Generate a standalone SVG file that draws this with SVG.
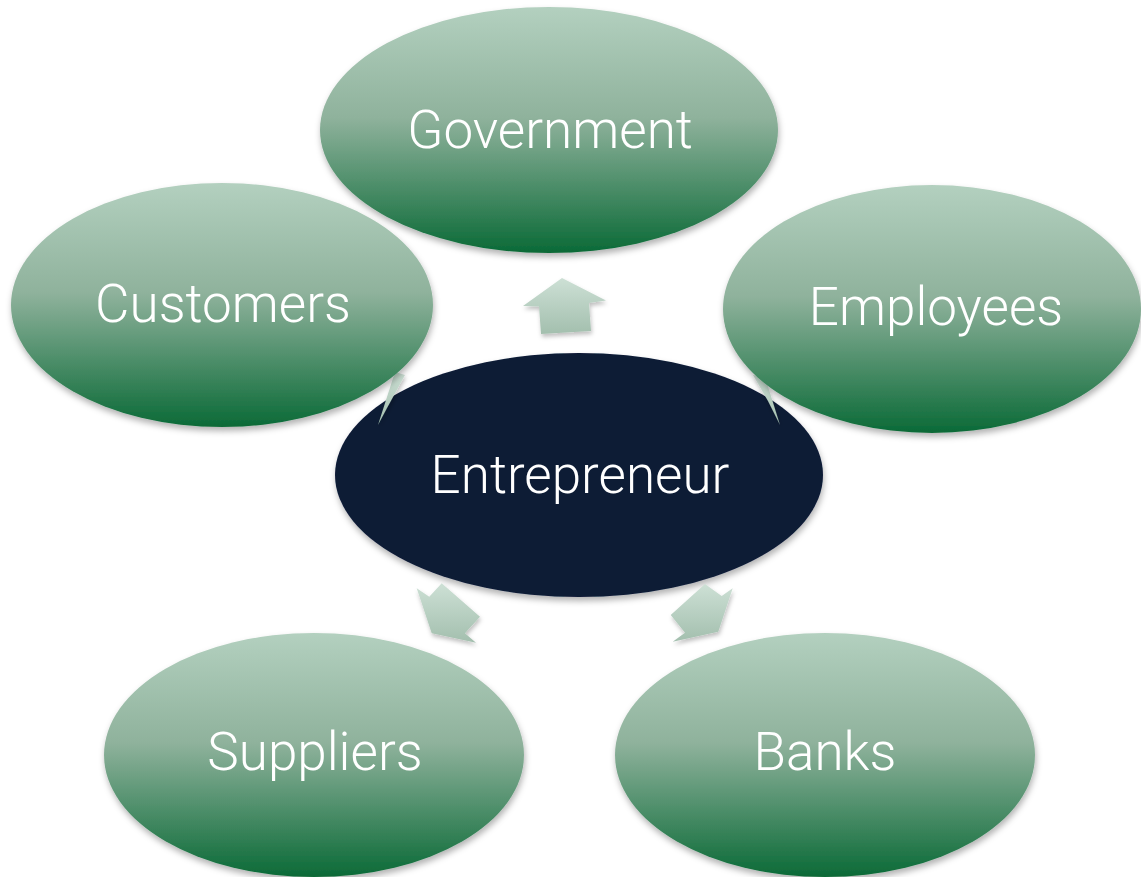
<svg xmlns="http://www.w3.org/2000/svg" width="1141" height="877" viewBox="0 0 1141 877">
<defs>
<linearGradient id="g" x1="0" y1="0" x2="0" y2="1">
<stop offset="0" stop-color="#b3d0bf"/>
<stop offset="0.45" stop-color="#8fb29c"/>
<stop offset="1" stop-color="#0b6a37"/>
</linearGradient>
<linearGradient id="ag" x1="0" y1="0" x2="0" y2="1">
<stop offset="0" stop-color="#cde0d5"/>
<stop offset="1" stop-color="#a3bfae"/>
</linearGradient>
<filter id="sh" x="-10%" y="-10%" width="120%" height="130%">
<feDropShadow dx="1" dy="4" stdDeviation="3" flood-color="#000" flood-opacity="0.3"/>
</filter>
<filter id="ash" x="-20%" y="-20%" width="140%" height="150%">
<feDropShadow dx="1" dy="3" stdDeviation="2" flood-color="#000" flood-opacity="0.25"/>
</filter>
</defs>
<style>
.n{fill:url(#g);filter:url(#sh)}
.c{fill:#0a1a36;filter:url(#sh)}
.a{fill:url(#ag);filter:url(#ash)}
text{font-family:Roboto,"Liberation Sans",sans-serif;font-weight:300;font-size:53px;fill:#fff;text-anchor:middle}
</style>
<g id="entrepreneur"><ellipse class="c" cx="579" cy="475" rx="244" ry="122"/><text x="580" y="493">Entrepreneur</text></g>
<g id="connectors">
<polygon class="a" points="562,278 523,306 539,306.5 541,334 591,331 589,303 606,300.5"/>
<polygon class="a" points="395,372 405,375 387,408 378,425"/>
<polygon class="a" points="753,375 765,377 780,425 768,401"/>
<polygon class="a" points="431.7,633.3 416.7,588.3 429.3,596.7 441.7,583.3 480,616.7 465,633.3 476,642.7"/>
<polygon class="a" points="718.3,631.7 732.7,588.3 721.7,596 705,584 670.7,615 685,632.7 672.7,641.7"/>
</g>
<g id="government"><ellipse class="n" cx="549" cy="130" rx="229" ry="123"/><text x="550" y="148">Government</text></g>
<g id="customers"><ellipse class="n" cx="222" cy="305" rx="211" ry="122"/><text x="223" y="322">Customers</text></g>
<g id="employees"><ellipse class="n" cx="932" cy="309" rx="209" ry="124"/><text x="936" y="325">Employees</text></g>
<g id="suppliers"><ellipse class="n" cx="314" cy="755" rx="210" ry="122"/><text x="315" y="770">Suppliers</text></g>
<g id="banks"><ellipse class="n" cx="825" cy="755" rx="210" ry="122"/><text x="825" y="770">Banks</text></g>
</svg>
